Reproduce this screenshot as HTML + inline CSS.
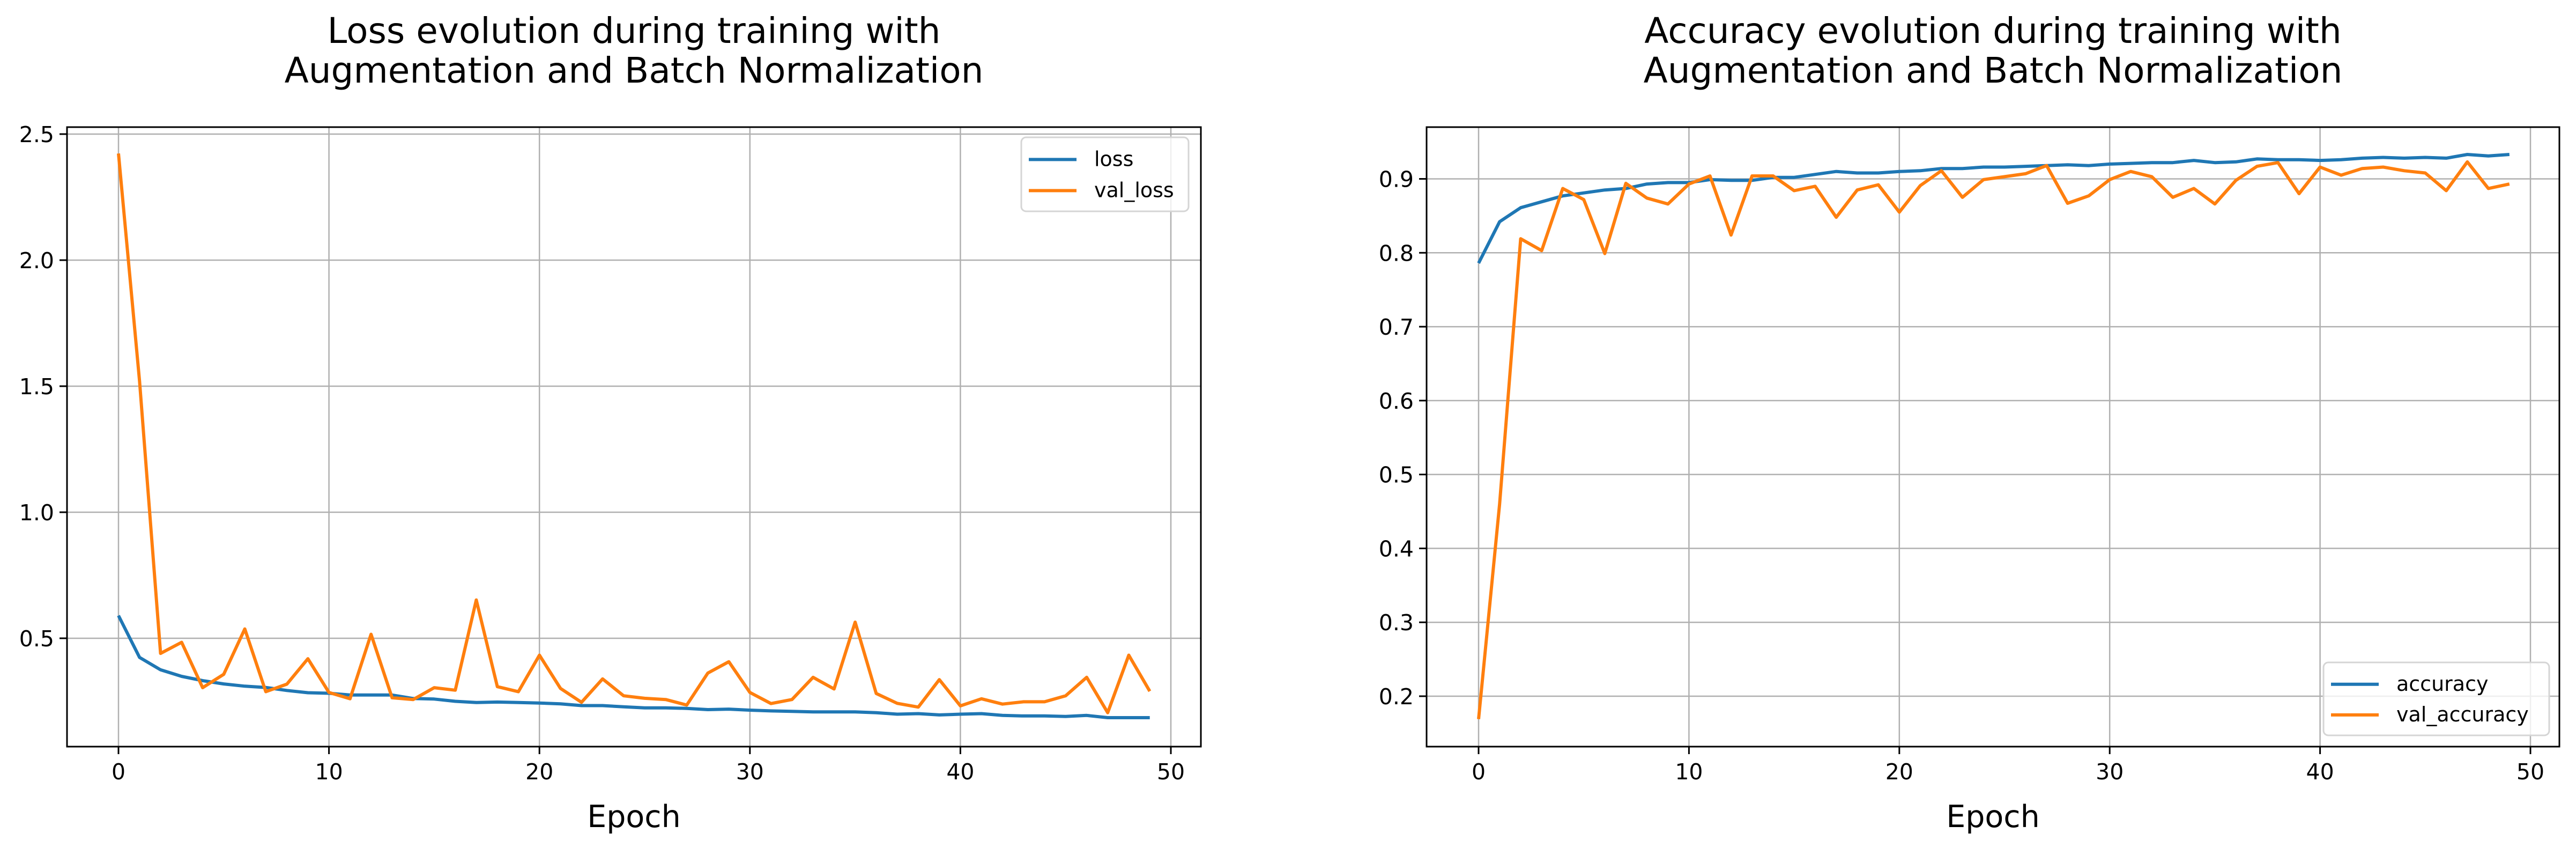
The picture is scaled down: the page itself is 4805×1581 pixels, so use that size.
<!DOCTYPE html>
<html><head><meta charset="utf-8"><style>
html,body{margin:0;padding:0;background:#fff;}
svg{display:block;font-family:"DejaVu Sans","Liberation Sans",sans-serif;}
</style></head><body>
<svg id="fig" width="4805" height="1581" viewBox="0 0 4805 1581" xmlns="http://www.w3.org/2000/svg">
<rect width="4805" height="1581" fill="#fff"/>
</svg>
<script>
const epochs = Array.from({length:50},(_,i)=>i);
const lossValues = [0.590,0.424,0.375,0.349,0.332,0.319,0.310,0.305,0.293,0.284,0.282,0.275,0.275,0.275,0.261,0.259,0.250,0.245,0.247,0.245,0.243,0.240,0.233,0.233,0.228,0.224,0.224,0.222,0.217,0.219,0.215,0.212,0.210,0.208,0.208,0.208,0.205,0.199,0.201,0.196,0.199,0.201,0.194,0.192,0.192,0.190,0.194,0.185,0.185,0.185];
const valLossValues = [2.423,1.52,0.440,0.484,0.304,0.357,0.537,0.288,0.318,0.419,0.285,0.260,0.516,0.264,0.257,0.304,0.294,0.652,0.308,0.288,0.433,0.301,0.246,0.339,0.272,0.262,0.257,0.235,0.362,0.407,0.285,0.241,0.257,0.345,0.299,0.564,0.281,0.242,0.227,0.336,0.232,0.260,0.239,0.248,0.248,0.272,0.345,0.205,0.433,0.290];
const accValues = [0.786,0.842,0.861,0.869,0.877,0.881,0.885,0.887,0.893,0.895,0.895,0.899,0.898,0.898,0.902,0.902,0.906,0.910,0.908,0.908,0.910,0.911,0.914,0.914,0.916,0.916,0.917,0.918,0.919,0.918,0.920,0.921,0.922,0.922,0.925,0.922,0.923,0.927,0.926,0.926,0.925,0.926,0.928,0.929,0.928,0.929,0.928,0.933,0.931,0.933];
const valAccValues = [0.169,0.46,0.819,0.803,0.887,0.872,0.799,0.894,0.874,0.866,0.893,0.904,0.824,0.904,0.904,0.884,0.890,0.848,0.885,0.892,0.855,0.891,0.911,0.875,0.899,0.903,0.907,0.918,0.867,0.877,0.899,0.910,0.903,0.875,0.887,0.866,0.898,0.917,0.922,0.880,0.916,0.905,0.914,0.916,0.911,0.908,0.884,0.923,0.887,0.893];
const xTicks = [0,10,20,30,40,50];
const lossYTicks = [0.5,1.0,1.5,2.0,2.5];
const lossYTickLabels = ["0.5","1.0","1.5","2.0","2.5"];
const accYTicks = [0.2,0.3,0.4,0.5,0.6,0.7,0.8,0.9];
const accYTickLabels = ["0.2","0.3","0.4","0.5","0.6","0.7","0.8","0.9"];

const NS="http://www.w3.org/2000/svg";
const svg=document.getElementById('fig');
function mk(tag,attrs,parent){const e=document.createElementNS(NS,tag);for(const k in attrs)e.setAttribute(k,attrs[k]);(parent||svg).appendChild(e);return e;}

function drawPanel(p){
  const g=mk('g',{});
  
  
  const xs=v=>p.x0+(v-0)*(p.x50-p.x0)/50;
  const ys=v=>p.yA+(v-p.vA)*(p.yB-p.yA)/(p.vB-p.vA);
  xTicks.forEach(t=>{
    const l=mk('line',{x1:xs(t),x2:xs(t),y1:p.top,y2:p.bottom,stroke:'#b0b0b0','stroke-width':2.5},g);
    
    
  });
  p.yTicks.forEach(t=>{
    const l=mk('line',{x1:p.left,x2:p.right,y1:ys(t),y2:ys(t),stroke:'#b0b0b0','stroke-width':2.5},g);
    
    
  });
  const series=[[p.a,'#1f77b4',p.la],[p.b,'#ff7f0e',p.lb]];
  series.forEach(s=>{
    const pts=s[0].map((v,i)=>xs(epochs[i]).toFixed(1)+','+ys(v).toFixed(1)).join(' ');
    const pl=mk('polyline',{points:pts,fill:'none',stroke:s[1],'stroke-width':6,'stroke-linejoin':'round'},g);
    
    
  });
  const fr=mk('rect',{x:p.left,y:p.top,width:p.right-p.left,height:p.bottom-p.top,fill:'none',stroke:'#000','stroke-width':3},g);
  
  
  xTicks.forEach(t=>{
    mk('line',{x1:xs(t),x2:xs(t),y1:p.bottom,y2:p.bottom+14,stroke:'#000','stroke-width':3},g);
    const tx=mk('text',{x:xs(t),y:1453,'font-size':41,'text-anchor':'middle',fill:'#000'},g);
    tx.textContent=String(t);
    
    
  });
  p.yTicks.forEach((t,i)=>{
    mk('line',{x1:p.left-14,x2:p.left,y1:ys(t),y2:ys(t),stroke:'#000','stroke-width':3},g);
    const tx=mk('text',{x:p.left-24,y:ys(t)+15,'font-size':41,'text-anchor':'end',fill:'#000'},g);
    tx.textContent=p.yLabels[i];
    
    
  });
  const xl=mk('text',{x:(p.left+p.right)/2,y:1542,'font-size':57,'text-anchor':'middle',fill:'#000'},g);
  xl.textContent='Epoch';
  
  
  const cx=(p.left+p.right)/2;
  const t1=mk('text',{x:cx,y:80,'font-size':66,'text-anchor':'middle',fill:'#000'},g);
  t1.textContent=p.title1;
  
  
  const t2=mk('text',{x:cx,y:154,'font-size':66,'text-anchor':'middle',fill:'#000'},g);
  t2.textContent='Augmentation and Batch Normalization';
  
  
  const L=p.leg;
  const lg=mk('g',{},g);
  
  
  mk('rect',{x:L.x,y:L.y,width:L.w,height:L.h,rx:9,fill:'#fff','fill-opacity':0.8,stroke:'#d5d5d5','stroke-width':3},lg);
  series.forEach((s,i)=>{
    const yy=L.y+L.h*(0.3+0.42*i);
    const ln=mk('line',{x1:L.x+14,x2:L.x+103,y1:yy,y2:yy,stroke:s[1],'stroke-width':6},lg);
    
    
    const tx=mk('text',{x:L.x+136,y:yy+12,'font-size':38,fill:'#000'},lg);
    tx.textContent=s[2];
    
    
  });
}

drawPanel({name:'loss-chart',left:125,right:2240,top:237,bottom:1392,x0:221,x50:2184,
  vA:0.5,yA:1190,vB:2.5,yB:250,yTicks:lossYTicks,yLabels:lossYTickLabels,
  a:lossValues,b:valLossValues,la:'loss',lb:'val_loss',title1:'Loss evolution during training with',
  leg:{x:1905,y:256,w:312,h:138}});
drawPanel({name:'accuracy-chart',left:2661,right:4774,top:237,bottom:1392,x0:2758,x50:4720,
  vA:0.2,yA:1298,vB:0.9,yB:333.5,yTicks:accYTicks,yLabels:accYTickLabels,
  a:accValues,b:valAccValues,la:'accuracy',lb:'val_accuracy',title1:'Accuracy evolution during training with',
  leg:{x:4334,y:1235,w:421,h:136}});
</script>
</body></html>
